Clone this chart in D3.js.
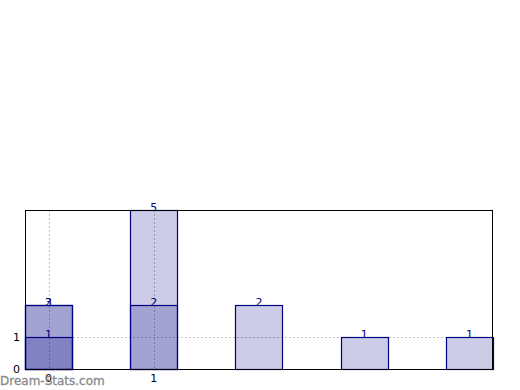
<!DOCTYPE html>
<html><head><meta charset="utf-8">
<script src="https://cdn.jsdelivr.net/npm/d3@7"></script>
<style>body{margin:0;background:#fff}svg{display:block}</style>
</head><body>
<svg id="c" width="520" height="390"></svg>
<script>
// Data
const categories = [0, 1, 2, 3, 4];
const seriesLight  = [2, 5, 2, 1, 1];
const labelsLight  = ["3", "5", "2", "1", "1"];
const seriesMedium = [2, 2, 0, 0, 0];
const labelsMedium = ["2", "2", "", "", ""];
const seriesDark   = [1, 0, 0, 0, 0];
const labelsDark   = ["1", "", "", "", ""];
const xTickLabels = ["0", "1"];
const yTicks = [0, 1];

const series = [
  {values: seriesLight, labels: labelsLight},
  {values: seriesMedium, labels: labelsMedium},
  {values: seriesDark, labels: labelsDark}
];

const svg = d3.select("#c");
const L = 25, R = 493, T = 210, B = 369;
const x = d3.scaleBand().domain(categories).range([L, R]).paddingInner(0.5534).paddingOuter(0);
const y = d3.scaleLinear().domain([0, 5]).range([B, T]);

// grid
const grid = svg.append("g").attr("stroke", "#c0c0c0").attr("stroke-dasharray", "2,2").attr("stroke-width", 1);
yTicks.forEach(t => grid.append("line").attr("x1", L).attr("x2", R).attr("y1", Math.round(y(t)) + 0.5).attr("y2", Math.round(y(t)) + 0.5));
xTickLabels.forEach((t, i) => {
  const cx = Math.round(x(categories[i]) + x.bandwidth() / 2) + 0.5;
  grid.append("line").attr("x1", cx).attr("x2", cx).attr("y1", T).attr("y2", B);
});

// bars
series.forEach(s => {
  const g = svg.append("g");
  g.selectAll("rect").data(categories.filter((c, i) => s.values[i] > 0)).join("rect")
    .attr("x", c => Math.round(x(c)) + 0.5)
    .attr("y", c => Math.round(y(s.values[categories.indexOf(c)])) + 0.5)
    .attr("width", Math.round(x.bandwidth()))
    .attr("height", c => Math.round(y(0)) - Math.round(y(s.values[categories.indexOf(c)])))
    .attr("fill", "rgba(0,0,128,0.2)")
    .attr("stroke", "#000080")
    .attr("stroke-width", 1.2);
});

// labels
series.forEach(s => {
  svg.append("g").selectAll("text").data(categories.filter((c, i) => s.values[i] > 0)).join("text")
    .attr("x", c => x(c) + x.bandwidth() / 2)
    .attr("y", c => y(s.values[categories.indexOf(c)]) + 1)
    .attr("text-anchor", "middle")
    .attr("font-family", "DejaVu Sans")
    .attr("font-size", 11)
    .attr("fill", "#000080")
    .text(c => s.labels[categories.indexOf(c)]);
});

// frame
svg.append("rect").attr("x", L + 0.5).attr("y", T + 0.5).attr("width", R - L - 1).attr("height", B - T)
  .attr("fill", "none").attr("stroke", "#000").attr("stroke-width", 1);

// y axis labels
const yAxis = d3.axisLeft(y).tickValues(yTicks).tickSize(0).tickPadding(5).tickFormat(d3.format("d"));
const ya = svg.append("g").attr("transform", `translate(${L},0)`).call(yAxis);
ya.select(".domain").remove();
ya.selectAll("text").attr("font-family", "DejaVu Sans").attr("font-size", 11).attr("fill", "#000");

// x axis labels
xTickLabels.forEach((t, i) => {
  svg.append("text").attr("x", x(categories[i]) + x.bandwidth() / 2).attr("y", B + 13).attr("text-anchor", "middle")
    .attr("font-family", "DejaVu Sans").attr("font-size", 11).attr("fill", "#000").text(t);
});

// watermark
svg.append("text").attr("x", 0).attr("y", 385).attr("font-family", "DejaVu Sans")
  .attr("font-size", 12).attr("fill", "#8a8a8a").attr("stroke", "#8a8a8a").attr("stroke-width", 0.3)
  .text("Dream-Stats.com");
</script>
</body></html>
